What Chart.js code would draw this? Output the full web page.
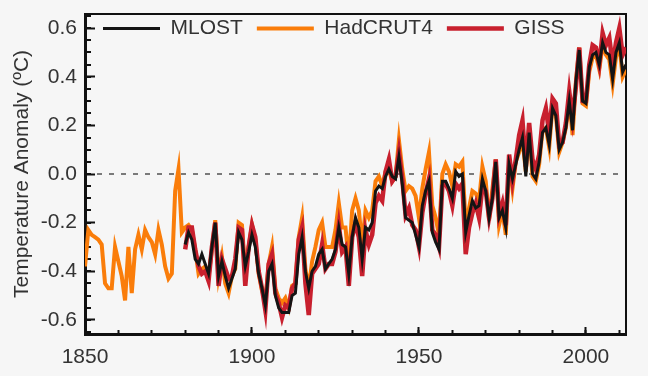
<!DOCTYPE html>
<html>
<head>
<meta charset="utf-8">
<script src="https://cdn.jsdelivr.net/npm/chart.js@4/dist/chart.umd.min.js"></script>
<style>
  html, body { margin: 0; padding: 0; background: #f6f6f6; }
</style>
</head>
<body>
<canvas id="temp-chart" width="648" height="376"></canvas>
<script>
// annual anomalies (ºC), one value per year from the start year
const hadStart = 1850;
const hadcrut4 = [
  -0.38, -0.23, -0.25, -0.26, -0.27, -0.29, -0.45, -0.47, -0.47, -0.30,
  -0.36, -0.42, -0.52, -0.30, -0.49, -0.31, -0.25, -0.31, -0.23, -0.26,
  -0.28, -0.33, -0.23, -0.29, -0.38, -0.43, -0.41, -0.07, 0.02, -0.24,
  -0.22, -0.21, -0.23, -0.31, -0.41, -0.39, -0.38, -0.42, -0.31, -0.19,
  -0.42, -0.34, -0.45, -0.49, -0.42, -0.39, -0.20, -0.21, -0.41, -0.30,
  -0.21, -0.27, -0.41, -0.48, -0.52, -0.37, -0.30, -0.47, -0.51, -0.53,
  -0.51, -0.55, -0.46, -0.45, -0.26, -0.18, -0.39, -0.47, -0.36, -0.30,
  -0.23, -0.20, -0.30, -0.30, -0.30, -0.23, -0.12, -0.22, -0.22, -0.36,
  -0.15, -0.10, -0.15, -0.29, -0.15, -0.18, -0.15, -0.03, -0.01, -0.05,
  0.01, 0.02, -0.03, -0.01, 0.14, 0.02, -0.07, -0.05, -0.06, -0.09,
  -0.18, -0.06, 0.02, 0.09, -0.13, -0.18, -0.25, 0.00, 0.04, 0.01,
  -0.05, 0.04, 0.03, 0.05, -0.21, -0.14, -0.07, -0.08, -0.11, 0.03,
  -0.03, -0.19, -0.06, 0.06, -0.21, -0.15, -0.25, 0.05, -0.06, 0.05,
  0.09, 0.14, 0.01, 0.19, -0.01, -0.03, 0.04, 0.18, 0.19, 0.11,
  0.28, 0.24, 0.09, 0.13, 0.19, 0.31, 0.16, 0.38, 0.52, 0.29,
  0.28, 0.42, 0.48, 0.49, 0.43, 0.53, 0.49, 0.47, 0.37, 0.48,
  0.53, 0.40, 0.43
];

const mlostStart = 1880;
const mlost = [
  -0.29, -0.24, -0.27, -0.35, -0.37, -0.33, -0.37, -0.41, -0.30, -0.20,
  -0.42, -0.36, -0.42, -0.47, -0.43, -0.39, -0.24, -0.27, -0.38, -0.32,
  -0.25, -0.30, -0.41, -0.47, -0.54, -0.40, -0.37, -0.50, -0.55, -0.57,
  -0.57, -0.57, -0.50, -0.49, -0.33, -0.26, -0.40, -0.47, -0.40, -0.38,
  -0.33, -0.31, -0.39, -0.37, -0.35, -0.31, -0.22, -0.29, -0.30, -0.41,
  -0.26, -0.18, -0.22, -0.35, -0.22, -0.23, -0.20, -0.07, -0.05, -0.06,
  -0.01, 0.02, -0.01, -0.02, 0.07, -0.04, -0.18, -0.19, -0.20, -0.25,
  -0.30, -0.13, -0.07, -0.03, -0.24, -0.28, -0.31, -0.03, -0.03, -0.06,
  -0.10, 0.01, -0.01, 0.00, -0.24, -0.17, -0.11, -0.14, -0.13, -0.02,
  -0.07, -0.18, -0.10, 0.05, -0.18, -0.15, -0.22, 0.04, -0.02, 0.04,
  0.10, 0.15, -0.01, 0.17, 0.00, -0.02, 0.05, 0.17, 0.19, 0.12,
  0.27, 0.24, 0.10, 0.13, 0.19, 0.30, 0.18, 0.38, 0.51, 0.30,
  0.29, 0.44, 0.49, 0.50, 0.45, 0.54, 0.50, 0.49, 0.39, 0.50,
  0.54, 0.42, 0.45
];

const gissStart = 1880;
const giss = [
  -0.31, -0.22, -0.22, -0.31, -0.38, -0.41, -0.40, -0.44, -0.30, -0.20,
  -0.46, -0.35, -0.39, -0.43, -0.42, -0.35, -0.22, -0.23, -0.46, -0.30,
  -0.21, -0.26, -0.40, -0.47, -0.56, -0.37, -0.33, -0.49, -0.53, -0.59,
  -0.54, -0.55, -0.47, -0.45, -0.27, -0.22, -0.45, -0.58, -0.41, -0.39,
  -0.37, -0.29, -0.39, -0.37, -0.37, -0.32, -0.21, -0.32, -0.30, -0.46,
  -0.26, -0.20, -0.26, -0.42, -0.23, -0.29, -0.25, -0.12, -0.09, -0.11,
  0.01, 0.06, -0.03, -0.01, 0.09, -0.02, -0.17, -0.14, -0.21, -0.23,
  -0.30, -0.16, -0.08, -0.02, -0.23, -0.25, -0.30, -0.05, -0.04, -0.07,
  -0.13, -0.04, -0.06, -0.04, -0.33, -0.22, -0.16, -0.12, -0.18, -0.05,
  -0.07, -0.18, -0.10, 0.06, -0.17, -0.12, -0.21, 0.08, -0.03, 0.06,
  0.16, 0.22, 0.03, 0.21, 0.06, 0.02, 0.08, 0.22, 0.27, 0.17,
  0.31, 0.29, 0.12, 0.13, 0.21, 0.34, 0.23, 0.36, 0.52, 0.30,
  0.30, 0.45, 0.53, 0.52, 0.45, 0.58, 0.53, 0.56, 0.45, 0.54,
  0.60, 0.49, 0.52
];

const xTickValues = [1850, 1900, 1950, 2000];
const xTickLabels = ['1850', '1900', '1950', '2000'];
const yTickValues = [-0.6, -0.4, -0.2, 0, 0.2, 0.4, 0.6];
const yTickLabels = ['-0.6', '-0.4', '-0.2', '0.0', '0.2', '0.4', '0.6'];
const seriesNames = ['MLOST', 'HadCRUT4', 'GISS'];
const yTitle = 'Temperature Anomaly (ºC)';

const xMin = 1850, xMax = 2012;
const yMin = -0.658, yMax = 0.658;

Chart.defaults.font.family = "'Liberation Sans', Arial, sans-serif";
Chart.defaults.font.size = 21;
Chart.defaults.color = '#333';

const toPoints = (start, values) => values.map((v, i) => ({ x: start + i, y: v }));

const zeroPadding = (axis) => {
  axis.paddingTop = 0;
  axis.paddingBottom = 0;
  axis.paddingLeft = 0;
  axis.paddingRight = 0;
};

// minor ticks: every decade on x, every 0.05 on y
const decadeTicks = () => {
  const t = [];
  for (let yr = xMin; yr <= xMax; yr += 10) t.push({ value: yr });
  return t;
};
const twentiethTicks = () => {
  const t = [];
  for (let k = -13; k <= 13; k++) t.push({ value: k * 0.05 });
  return t;
};

// legend sits inside the plot frame, like the original
const legendInside = {
  id: 'legendInside',
  afterLayout(chart) {
    const lg = chart.legend;
    const area = chart.chartArea;
    lg.left = area.left + 4;
    lg.right = area.right;
    lg.top = area.top - 10;
    lg.bottom = area.top + 40;
    lg.width = lg.right - lg.left;
    lg.height = lg.bottom - lg.top;
  }
};

const lineStyle = { pointRadius: 0, tension: 0, fill: false };

const chartData = {
  datasets: [{
    label: seriesNames[0],
    data: toPoints(mlostStart, mlost),
    borderColor: '#141414',
    backgroundColor: '#141414',
    borderWidth: 3,
    order: 0,
    ...lineStyle
  }, {
    label: seriesNames[1],
    data: toPoints(hadStart, hadcrut4),
    borderColor: '#fa7d0a',
    backgroundColor: '#fa7d0a',
    borderWidth: 4,
    order: 2,
    ...lineStyle
  }, {
    label: seriesNames[2],
    data: toPoints(gissStart, giss),
    borderColor: '#c8202e',
    backgroundColor: '#c8202e',
    borderWidth: 4.5,
    order: 1,
    ...lineStyle
  }]
};

const chartOptions = {
  responsive: false,
  animation: false,
  events: [],
  devicePixelRatio: 1,
  layout: { padding: { top: 13, right: 22, left: 0, bottom: 0 } },
  scales: {
    x: {
      type: 'linear', position: 'bottom', min: xMin, max: xMax, weight: 1,
      afterBuildTicks: axis => { axis.ticks = xTickValues.map(v => ({ value: v })); },
      afterFit: axis => { axis.height = 42; zeroPadding(axis); },
      ticks: { autoSkip: false, maxRotation: 0, padding: 18, callback: (v, i) => xTickLabels[i] },
      grid: { drawOnChartArea: false, tickLength: -7, tickColor: '#111', tickWidth: 2 },
      border: { display: true, color: '#111', width: 3 }
    },
    xMinor: {
      type: 'linear', position: 'bottom', min: xMin, max: xMax, weight: 0,
      afterBuildTicks: axis => { axis.ticks = decadeTicks(); },
      afterFit: axis => { axis.height = 0; zeroPadding(axis); },
      ticks: { display: false },
      grid: { drawOnChartArea: false, tickLength: -4, tickColor: '#111', tickWidth: 2 },
      border: { display: false }
    },
    xTop: {
      type: 'linear', position: 'top', min: xMin, max: xMax,
      afterFit: axis => { axis.height = 0; zeroPadding(axis); },
      ticks: { display: false },
      grid: { display: false },
      border: { display: true, color: '#111', width: 2 }
    },
    y: {
      type: 'linear', position: 'left', min: yMin, max: yMax, weight: 1,
      afterBuildTicks: axis => { axis.ticks = yTickValues.map(v => ({ value: v })); },
      afterFit: axis => { axis.width = 85; zeroPadding(axis); },
      title: { display: true, text: yTitle, color: '#333', font: { size: 21 }, padding: { top: 10, bottom: 0 } },
      ticks: { autoSkip: false, padding: 18, callback: (v, i) => yTickLabels[i] },
      grid: { drawOnChartArea: false, tickLength: -10, tickColor: '#111', tickWidth: 2 },
      border: { display: true, color: '#111', width: 3 }
    },
    yMinor: {
      type: 'linear', position: 'left', min: yMin, max: yMax, weight: 0,
      afterBuildTicks: axis => { axis.ticks = twentiethTicks(); },
      afterFit: axis => { axis.width = 0; zeroPadding(axis); },
      ticks: { display: false },
      grid: {
        drawOnChartArea: true,
        color: ctx => (ctx.tick && ctx.tick.value === 0 ? '#7a7a7a' : 'rgba(0,0,0,0)'),
        lineWidth: 2,
        tickLength: -6, tickColor: '#111', tickWidth: 2
      },
      border: { display: false, dash: [5, 7] }
    },
    yRight: {
      type: 'linear', position: 'right', min: yMin, max: yMax,
      afterFit: axis => { axis.width = 0; zeroPadding(axis); },
      ticks: { display: false },
      grid: { display: false },
      border: { display: true, color: '#111', width: 2 }
    }
  },
  plugins: {
    legend: {
      position: 'top',
      align: 'start',
      maxHeight: 1,
      labels: {
        boxWidth: 57,
        boxHeight: 0,
        padding: 14,
        color: '#333',
        font: { size: 21 },
        sort: (a, b) => a.datasetIndex - b.datasetIndex
      }
    },
    tooltip: { enabled: false }
  }
};

const tempCanvas = document.getElementById('temp-chart');
let tempChart = new Chart(tempCanvas, {
  type: 'line',
  data: chartData,
  options: chartOptions,
  plugins: [legendInside]
});
</script>
</body>
</html>
